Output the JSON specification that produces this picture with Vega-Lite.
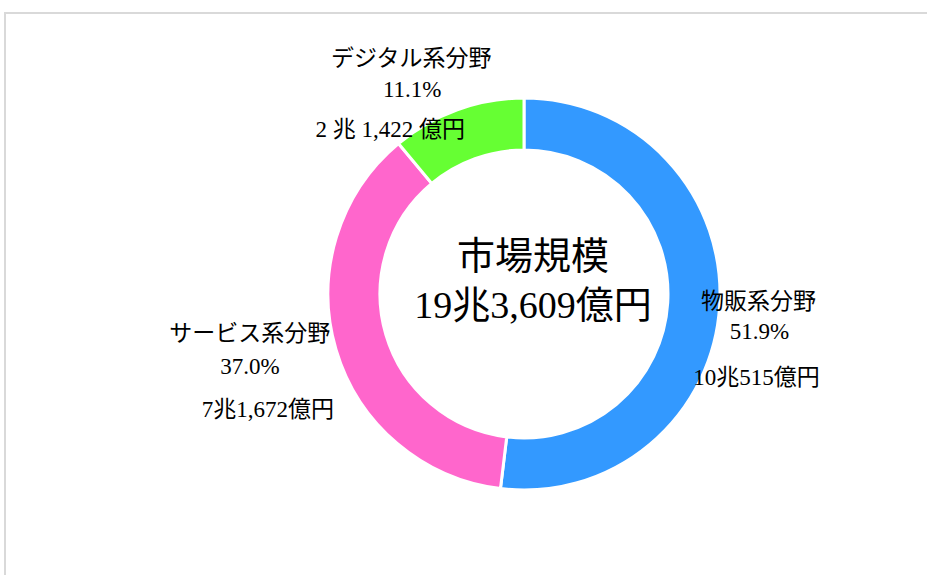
{
  "$schema": "https://vega.github.io/schema/vega-lite/v6.json",
  "width": 1038,
  "height": 562,
  "padding": {"left": 5, "top": 13, "right": 0, "bottom": 0},
  "autosize": {"type": "none"},
  "background": "white",
  "view": {"stroke": "#d9d9d9", "strokeWidth": 2, "strokeDash": [1038, 1600, 562]},
  "config": {
    "text": {"font": "Liberation Serif, Noto Sans CJK JP", "fontSize": 23, "color": "#000000"}
  },
  "data": {
    "values": [
      {"cat": "物販系分野", "value": 100515, "pct": "51.9%", "amount": "10兆515億円", "ord": 1},
      {"cat": "サービス系分野", "value": 71672, "pct": "37.0%", "amount": "7兆1,672億円", "ord": 2},
      {"cat": "デジタル系分野", "value": 21422, "pct": "11.1%", "amount": "2 兆 1,422 億円", "ord": 3}
    ]
  },
  "encoding": {
    "theta": {"field": "value", "type": "quantitative", "stack": true},
    "order": {"field": "ord", "type": "quantitative"}
  },
  "layer": [
    {
      "mark": {"type": "arc", "outerRadius": 196, "innerRadius": 144, "stroke": "white", "strokeWidth": 3},
      "encoding": {
        "color": {
          "field": "cat", "type": "nominal", "legend": null,
          "scale": {"domain": ["物販系分野", "サービス系分野", "デジタル系分野"], "range": ["#3399ff", "#ff66cc", "#66ff33"]}
        }
      }
    },
    {
      "mark": {"type": "text", "radius": 240, "dx": -5, "dy": -6},
      "encoding": {"text": {"condition": {"test": "datum.ord == 1", "field": "cat"}, "value": ""}}
    },
    {
      "mark": {"type": "text", "radius": 240, "dx": -4, "dy": 24},
      "encoding": {"text": {"condition": {"test": "datum.ord == 1", "field": "pct"}, "value": ""}}
    },
    {
      "mark": {"type": "text", "radius": 240, "dx": -7, "dy": 70},
      "encoding": {"text": {"condition": {"test": "datum.ord == 1", "field": "amount"}, "value": ""}}
    },
    {
      "mark": {"type": "text", "radius": 240, "dx": -44, "dy": -28},
      "encoding": {"text": {"condition": {"test": "datum.ord == 2", "field": "cat"}, "value": ""}}
    },
    {
      "mark": {"type": "text", "radius": 240, "dx": -44, "dy": 5},
      "encoding": {"text": {"condition": {"test": "datum.ord == 2", "field": "pct"}, "value": ""}}
    },
    {
      "mark": {"type": "text", "radius": 240, "dx": -26, "dy": 48},
      "encoding": {"text": {"condition": {"test": "datum.ord == 2", "field": "amount"}, "value": ""}}
    },
    {
      "mark": {"type": "text", "radius": 240, "dx": -31, "dy": -9},
      "encoding": {"text": {"condition": {"test": "datum.ord == 3", "field": "cat"}, "value": ""}}
    },
    {
      "mark": {"type": "text", "radius": 240, "dx": -30, "dy": 22},
      "encoding": {"text": {"condition": {"test": "datum.ord == 3", "field": "pct"}, "value": ""}}
    },
    {
      "mark": {"type": "text", "radius": 240, "dx": -52, "dy": 62},
      "encoding": {"text": {"condition": {"test": "datum.ord == 3", "field": "amount"}, "value": ""}}
    },
    {
      "mark": {"type": "text", "radius": 0, "fontSize": 38, "lineHeight": 49, "dx": 9, "dy": -36},
      "encoding": {"text": {"condition": {"test": "datum.ord == 1", "value": ["市場規模", "19兆3,609億円"]}, "value": ""}}
    }
  ]
}
